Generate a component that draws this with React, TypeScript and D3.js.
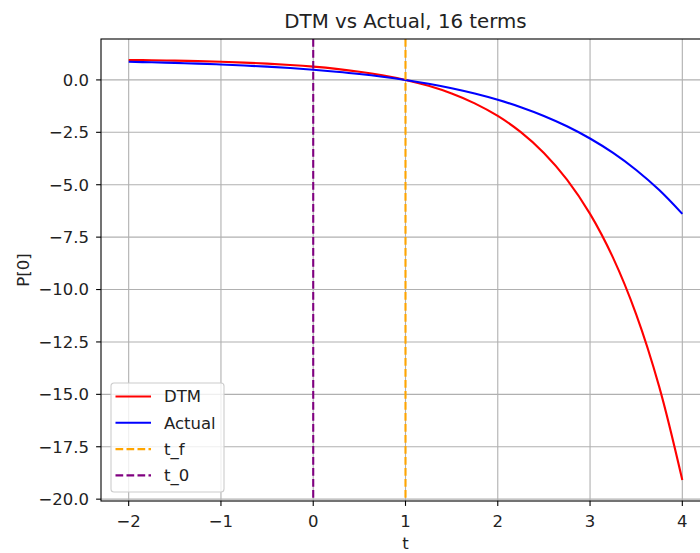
import React, { useEffect, useRef } from 'react'
import * as d3 from 'd3'

// values
const tValues = [-2, -1.75, -1.5, -1.25, -1, -0.75, -0.5, -0.25, 0, 0.25, 0.5, 0.75, 1,
    1.25, 1.5, 1.75, 2, 2.25, 2.5, 2.75, 3, 3.25, 3.5, 3.75, 4]
const dtmValues = [0.950, 0.936, 0.918, 0.895, 0.865, 0.826, 0.777, 0.713, 0.632, 0.528, 0.393, 0.221, 0,
    -0.284, -0.649, -1.117, -1.718, -2.490, -3.482, -4.755, -6.389, -8.488, -11.182, -14.643, -19.086]
const actualValues = [0.865, 0.840, 0.811, 0.777, 0.736, 0.689, 0.632, 0.565, 0.487, 0.393, 0.284, 0.154, 0,
    -0.181, -0.396, -0.649, -0.948, -1.301, -1.718, -2.211, -2.794, -3.482, -4.295, -5.255, -6.389]
const tF = 1
const t0 = 0
const xTicks = [-2, -1, 0, 1, 2, 3, 4]
const yTicks = [0, -2.5, -5, -7.5, -10, -12.5, -15, -17.5, -20]
const legendItems = [
    { label: 'DTM', color: '#ff0000', dash: '' },
    { label: 'Actual', color: '#0000ff', dash: '' },
    { label: 't_f', color: '#ffa500', dash: '7.7,3.3' },
    { label: 't_0', color: '#800080', dash: '7.7,3.3' },
]

const W = 700, H = 553
const left = 101, top = 39, right = 710, bottom = 501
const font = 'DejaVu Sans, sans-serif'
const fs = 16.5

const App = () => {
    const ref = useRef<SVGSVGElement>(null)

    useEffect(() => {
        const svg = d3.select(ref.current)
        svg.selectAll('*').remove()

        const ext = [d3.min(tValues) ?? 0, d3.max(tValues) ?? 0]
        const xpad = (ext[1] - ext[0]) * 0.05
        const x = d3.scaleLinear().domain([ext[0] - xpad, ext[1] + xpad]).range([left, right])
        const ymin = Math.min(d3.min(dtmValues) ?? 0, d3.min(actualValues) ?? 0)
        const ymax = Math.max(d3.max(dtmValues) ?? 0, d3.max(actualValues) ?? 0)
        const ypad = (ymax - ymin) * 0.05
        const y = d3.scaleLinear().domain([ymin - ypad, ymax + ypad]).range([bottom, top])

        svg.append('rect').attr('width', W).attr('height', H).attr('fill', '#fff')

        svg.append('defs').append('clipPath').attr('id', 'plotclip')
            .append('rect').attr('x', left).attr('y', top).attr('width', right - left).attr('height', bottom - top)

        // grid
        const grid = svg.append('g').attr('stroke', '#b0b0b0').attr('stroke-width', 1.1)
        grid.selectAll('.gx').data(xTicks).join('line')
            .attr('x1', d => x(d)).attr('x2', d => x(d)).attr('y1', top).attr('y2', bottom)
        grid.selectAll('.gy').data(yTicks).join('line').attr('class', 'gy')
            .attr('y1', d => y(d)).attr('y2', d => y(d)).attr('x1', left).attr('x2', right)

        const line = d3.line<number>()
            .x((d, i) => x(tValues[i]))
            .y(d => y(d))
            .curve(d3.curveCatmullRom)

        const plot = svg.append('g').attr('clip-path', 'url(#plotclip)')
        plot.append('path').attr('d', line(dtmValues)).attr('fill', 'none')
            .attr('stroke', '#ff0000').attr('stroke-width', 2.1)
        plot.append('path').attr('d', line(actualValues)).attr('fill', 'none')
            .attr('stroke', '#0000ff').attr('stroke-width', 2.1)
        plot.append('line').attr('x1', x(tF)).attr('x2', x(tF)).attr('y1', top).attr('y2', bottom)
            .attr('stroke', '#ffa500').attr('stroke-width', 2.1).attr('stroke-dasharray', '7.7,3.3')
        plot.append('line').attr('x1', x(t0)).attr('x2', x(t0)).attr('y1', top).attr('y2', bottom)
            .attr('stroke', '#800080').attr('stroke-width', 2.1).attr('stroke-dasharray', '7.7,3.3')

        // spines
        svg.append('rect').attr('x', left).attr('y', top).attr('width', right - left).attr('height', bottom - top)
            .attr('fill', 'none').attr('stroke', '#000').attr('stroke-width', 1.1)

        // axes
        const fmtY = (d: number) => d.toFixed(1).replace('-', '\u2212')
        const fmtX = (d: number) => String(d).replace('-', '\u2212')
        const xAxis = svg.append('g').attr('font-family', font).attr('font-size', fs).attr('fill', '#222')
        xAxis.selectAll('line').data(xTicks).join('line')
            .attr('x1', d => x(d)).attr('x2', d => x(d)).attr('y1', bottom).attr('y2', bottom + 4.9)
            .attr('stroke', '#000').attr('stroke-width', 1.1)
        xAxis.selectAll('text').data(xTicks).join('text')
            .attr('x', d => x(d)).attr('y', bottom + 26).attr('text-anchor', 'middle').text(fmtX)

        const yAxis = svg.append('g').attr('font-family', font).attr('font-size', fs).attr('fill', '#222')
        yAxis.selectAll('line').data(yTicks).join('line')
            .attr('y1', d => y(d)).attr('y2', d => y(d)).attr('x1', left - 4.9).attr('x2', left)
            .attr('stroke', '#000').attr('stroke-width', 1.1)
        yAxis.selectAll('text').data(yTicks).join('text')
            .attr('x', left - 12).attr('y', d => y(d)).attr('dy', '0.36em').attr('text-anchor', 'end').text(fmtY)

        svg.append('text').attr('x', (left + right) / 2).attr('y', 549).attr('text-anchor', 'middle')
            .attr('font-family', font).attr('font-size', fs).attr('fill', '#222').text('t')
        svg.append('text').attr('transform', `translate(29,${(top + bottom) / 2}) rotate(-90)`)
            .attr('text-anchor', 'middle').attr('font-family', font).attr('font-size', fs).attr('fill', '#222').text('P[0]')
        svg.append('text').attr('x', (left + right) / 2).attr('y', 28).attr('text-anchor', 'middle')
            .attr('font-family', font).attr('font-size', 19.8).attr('fill', '#222').text('DTM vs Actual, 16 terms')

        // legend
        const lg = svg.append('g').attr('transform', 'translate(111,383)')
        lg.append('rect').attr('width', 113).attr('height', 109).attr('rx', 3)
            .attr('fill', '#fff').attr('fill-opacity', 0.8).attr('stroke', '#cccccc').attr('stroke-width', 1.1)
        const items = lg.selectAll('g').data(legendItems).join('g')
            .attr('transform', (d, i) => `translate(0,${13.5 + i * 26.3})`)
        items.append('line').attr('x1', 4.5).attr('x2', 40).attr('y1', 0).attr('y2', 0)
            .attr('stroke', d => d.color).attr('stroke-width', 2.1).attr('stroke-dasharray', d => d.dash)
        items.append('text').attr('x', 53).attr('y', 0).attr('dy', '0.36em')
            .attr('font-family', font).attr('font-size', fs).attr('fill', '#222').text(d => d.label)
    }, [])

    return (
        <svg ref={ref} width={W} height={H} style={{ position: 'absolute', left: 0, top: 0 }} />
    )
}

export default App
